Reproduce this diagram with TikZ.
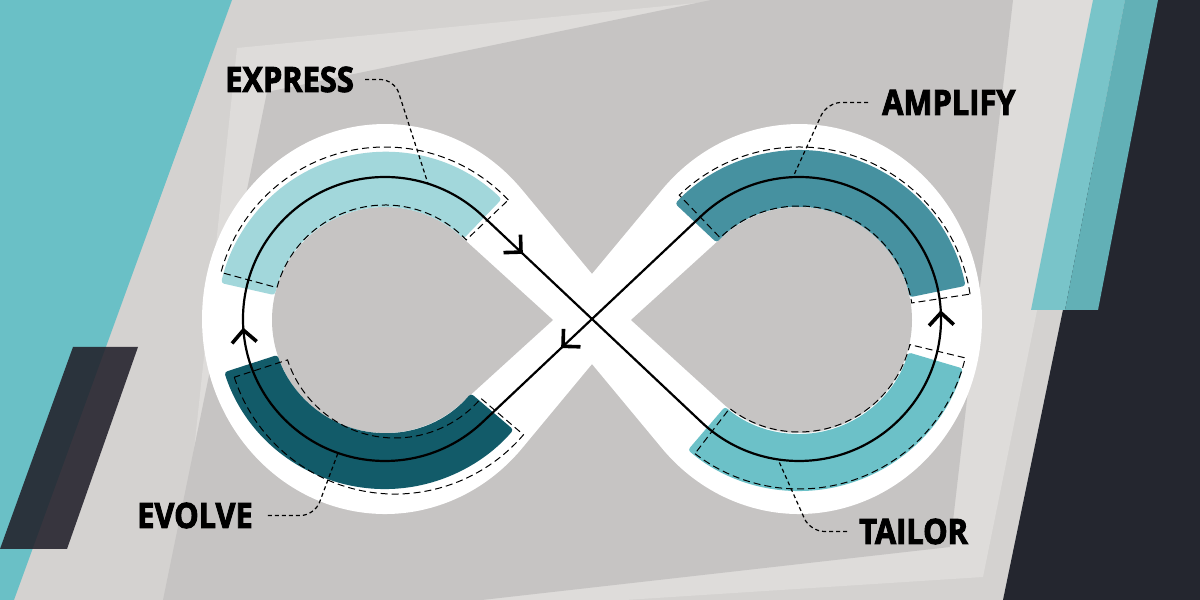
\documentclass[tikz,border=0pt]{standalone}
\usepackage{fontspec}
\newfontfamily\lblfont{Open Sans}[FakeStretch=0.88, BoldFeatures={FakeBold=2.5}]
\usetikzlibrary{calc}
\definecolor{bgbase}{HTML}{D4D2D0}
\definecolor{bglight}{HTML}{DEDCDA}
\definecolor{bgpanel}{HTML}{C6C4C3}
\definecolor{tealL}{HTML}{6AC0C6}
\definecolor{tealA}{HTML}{79C4C9}
\definecolor{tealB}{HTML}{62B0B6}
\definecolor{darkR}{HTML}{24262F}
\definecolor{darkP}{HTML}{22202A}
\definecolor{cexp}{HTML}{A2D7DB}
\definecolor{camp}{HTML}{4691A0}
\definecolor{cevo}{HTML}{125B69}
\definecolor{ctai}{HTML}{6CC1C8}
\newcommand\ringseg[7]{\path[#1] ($(#2,#3)+(#4:#7)$) arc[start angle=#4,end angle=#5,radius=#7] -- ($(#2,#3)+(#5:#6)$) arc[start angle=#5,end angle=#4,radius=#6] -- cycle;}
\newcommand\chevat[2]{\draw[chevron] ($(#1)+(#2+135:17.5)$) -- (#1) -- ($(#1)+(#2-135:17.5)$);}
\begin{document}
\begin{tikzpicture}[x=1pt,y=1pt,
  flow/.style={line width=2.2pt, black},
  chevron/.style={line width=3.6pt, black, line join=miter, line cap=butt},
  leader/.style={line width=1.2pt, black, dash pattern=on 4pt off 3pt, rounded corners=14pt},
  outl/.style={draw=black, line width=1pt, dash pattern=on 7pt off 4pt},
  seg/.style={rounded corners=3pt},
  lbl/.style={font=\lblfont\bfseries\fontsize{35}{35}\selectfont, inner sep=0pt, anchor=base west, text=black}]
\useasboundingbox (0,0) rectangle (1200,600);
% background
\fill[bgbase] (0,0) rectangle (1200,600);
\fill[tealL] (0,600) -- (232,600) -- (14,0) -- (0,0) -- cycle;
\fill[bglight] (237,552) -- (727,600) -- (1100,600) -- (983,23) -- (625,0) -- (178,0) -- cycle;
\fill[bgpanel] (267,508) -- (711,600) -- (1013,600) -- (950,53) -- (482,0) -- (163,0) -- cycle;
\fill[darkR] (1127,600) -- (1200,600) -- (1200,0) -- (1003,0) -- cycle;
\fill[tealA] (1093,600) -- (1125,600) -- (1065,290) -- (1031,290) -- cycle;
\fill[tealB] (1125,600) -- (1158,600) -- (1098,290) -- (1065,290) -- cycle;
\fill[darkP, opacity=0.88] (73,253) -- (138,253) -- (67,51) -- (0,51) -- cycle;
% white infinity band
\fill[white] (592,326) -- (522.05,410.2) arc[start angle=41.51, end angle=318.49, x radius=183, y radius=195] -- (592,236) -- cycle;
\fill[white] (592,326) -- (661.95,410.2) arc[start angle=138.49, end angle=-138.49, x radius=183, y radius=195] -- (592,236) -- cycle;
\fill[bgpanel] (553,280) -- (461.0,363.6) arc[start angle=47.73, end angle=312.27, radius=113] -- cycle;
\fill[bgpanel] (631,280) -- (723.0,363.6) arc[start angle=132.27, end angle=-132.27, radius=113] -- cycle;
% coloured segments
\ringseg{seg, fill=cexp}{385}{280}{46}{167.3}{113}{168}
\ringseg{seg, fill=cevo}{385}{280}{-162}{-40.5}{113}{169}
\ringseg{seg, fill=camp}{799}{280}{11.6}{136.8}{113}{170}
\ringseg{seg, fill=ctai}{799}{280}{-130.5}{-16.5}{114}{171}
% dashed outlines
\ringseg{outl}{385}{283}{43.5}{164.8}{112}{170}
\ringseg{outl}{395}{275}{-162}{-40.5}{113}{169}
\ringseg{outl}{799}{280}{8.6}{133.8}{114}{173}
\ringseg{outl}{799}{282}{-127.5}{-13.5}{114}{171}
% flow path
\draw[flow] (482.4,384.3) -- (701.6,177.7) arc[start angle=-133.32, end angle=133.32, radius=142] -- (482.4,177.7) arc[start angle=-46.68, end angle=-313.32, radius=142] -- cycle;
\chevat{521,347.9}{-43.3}
\chevat{563,253.7}{223.3}
\chevat{243.4,269.9}{94.5}
\chevat{940.9,287.2}{92.5}
% labels and leaders
\node[lbl] (exp) at (225,508) {EXPRESS};
\node[lbl] (amp) at (882,485) {AMPLIFY};
\node[lbl] (evo) at (137,72) {EVOLVE};
\node[lbl] (tai) at (859,56) {TAILOR};
\coordinate (expk) at (394.4,520);
\coordinate (expe) at (428,416.3);
\coordinate (ampk) at (827.1,497);
\coordinate (ampe) at (793,422.9);
\coordinate (evok) at (314.6,84);
\coordinate (evoe) at (338,147);
\coordinate (taik) at (810.2,68);
\coordinate (taie) at (778,140.6);
\draw[leader] ([xshift=11pt]exp.east) -- (exp.east -| expk) -- (expe);
\draw[leader] ([xshift=-14pt]amp.west) -- (amp.west -| ampk) -- (ampe);
\draw[leader] ([xshift=15pt]evo.east) -- (evo.east -| evok) -- (evoe);
\draw[leader] ([xshift=-12pt]tai.west) -- (tai.west -| taik) -- (taie);
\end{tikzpicture}
\end{document}
